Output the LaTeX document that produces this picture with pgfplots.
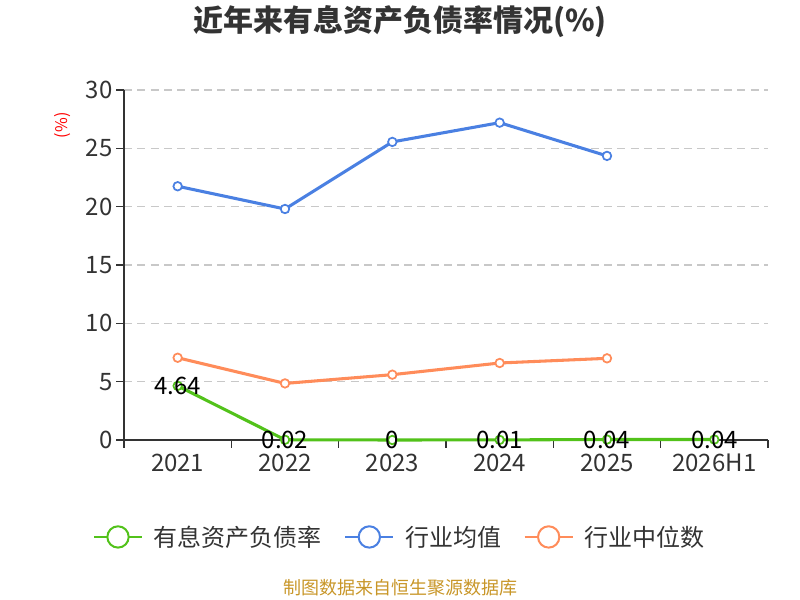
\documentclass[border=0pt]{standalone}
\usepackage{fontspec}
\setmainfont{Noto Sans CJK SC}
\usepackage{pgfplots}
\pgfplotsset{compat=1.18}
\definecolor{cgreen}{RGB}{82,194,26}
\definecolor{cblue}{RGB}{74,128,226}
\definecolor{corange}{RGB}{255,140,90}
\definecolor{ctext}{RGB}{51,51,51}
\definecolor{cfoot}{RGB}{200,150,40}
\definecolor{cgrid}{RGB}{200,200,200}
\begin{document}
\begin{tikzpicture}
\useasboundingbox (0,0) rectangle (600pt,450pt);
\node[font=\fontsize{22.5pt}{25pt}\selectfont\bfseries, text=ctext] at (300pt,433.5pt) {近年来有息资产负债率情况(\%)};
\node[font=\fontsize{12pt}{14pt}\selectfont, text=red, rotate=90] at (47pt,356pt) {(\%)};
\node[font=\fontsize{13.5pt}{15pt}\selectfont, text=cfoot] at (300pt,9pt) {制图数据来自恒生聚源数据库};
\begin{axis}[
  at={(93pt,120pt)}, anchor=south west,
  scale only axis, width=483pt, height=262.5pt,
  xmin=-0.5, xmax=5.5, ymin=0, ymax=30,
  axis lines*=left,
  axis line style={ctext, line width=1pt},
  xtick={0,1,2,3,4,5},
  xticklabels={2021,2022,2023,2024,2025,2026H1},
  minor xtick={-0.5,0.5,1.5,2.5,3.5,4.5,5.5},
  ytick={0,5,10,15,20,25,30},
  tick align=outside,
  major x tick style={draw=none},
  minor x tick style={ctext, line width=1pt},
  y tick style={ctext, line width=1pt},
  major tick length=6pt,
  minor tick length=6pt,
  ymajorgrids,
  grid style={cgrid, dashed, dash pattern=on 6pt off 4pt, line width=1pt},
  tick label style={font=\fontsize{18pt}{20pt}\selectfont, text=ctext},
  /pgf/number format/assume math mode=true,
  xticklabel style={yshift=-1pt},
  yticklabel style={xshift=1pt},
  clip=false,
  legend columns=3,
  legend style={draw=none, fill=none, at={(0.4286,-0.277)}, anchor=center,
    font=\fontsize{18pt}{20pt}\selectfont, text=ctext,
    /tikz/every odd column/.append style={column sep=6pt},
    /tikz/every even column/.append style={column sep=15pt}},
  legend cell align=left,
]
\addplot[cgreen, line width=2.3pt, mark=*, mark size=3.2pt,
  mark options={fill=white, line width=1.3pt},
  point meta=explicit symbolic,
  nodes near coords,
  every node near coord/.append style={anchor=center, text=black, font=\fontsize{18pt}{20pt}\selectfont},
  legend image code/.code={\draw[cgreen, line width=1.5pt] (0pt,0pt)--(36pt,0pt);
  \draw[cgreen, line width=1.5pt, fill=white] (18pt,0pt) circle (8pt);}]
  coordinates {(0,4.64)[4.64] (1,0.02)[0.02] (2,0)[0] (3,0.01)[0.01] (4,0.04)[0.04] (5,0.04)[0.04]};
\addplot[cblue, line width=2.3pt, mark=*, mark size=3.2pt,
  mark options={fill=white, line width=1.3pt},
  legend image code/.code={\draw[cblue, line width=1.5pt] (0pt,0pt)--(36pt,0pt);
  \draw[cblue, line width=1.5pt, fill=white] (18pt,0pt) circle (8pt);}]
  coordinates {(0,21.75) (1,19.8) (2,25.55) (3,27.2) (4,24.35)};
\addplot[corange, line width=2.3pt, mark=*, mark size=3.2pt,
  mark options={fill=white, line width=1.3pt},
  legend image code/.code={\draw[corange, line width=1.5pt] (0pt,0pt)--(36pt,0pt);
  \draw[corange, line width=1.5pt, fill=white] (18pt,0pt) circle (8pt);}]
  coordinates {(0,7.05) (1,4.85) (2,5.6) (3,6.6) (4,7.0)};
\legend{有息资产负债率,行业均值,行业中位数}
\end{axis}
\end{tikzpicture}
\end{document}
